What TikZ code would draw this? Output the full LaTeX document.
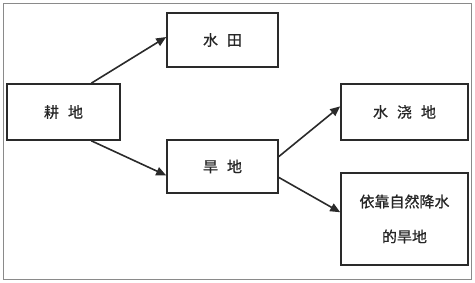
\documentclass[tikz,border=0pt]{standalone}
\usepackage{fontspec}
\setmainfont{Noto Sans CJK SC}
\newfontfamily\landfont{Noto Sans CJK SC}[FakeBold=0.8]
\usepackage{tikz}
\usetikzlibrary{arrows.meta}
\definecolor{boxline}{HTML}{2A2A2A}
\definecolor{frameline}{HTML}{8A8A8A}
\newcommand{\cgap}{\hspace{9pt}}

\begin{document}
\begin{tikzpicture}[
  x=1pt, y=1pt,
  landbox/.style={draw=boxline, line width=1.6pt, align=center, inner sep=0pt,
    font=\landfont\fontsize{15pt}{35pt}\selectfont, text=black!85},
  arrow/.style={-{Triangle[length=10pt, width=8.5pt]}, line width=1.6pt, draw=boxline}
]
  \useasboundingbox (0,0) rectangle (475,283);
  \draw[frameline, line width=1pt] (3,3) rectangle (471,279);

  \node[landbox, minimum width=113pt, minimum height=56pt] (gengdi) at (63.5,171) {耕\cgap 地};
  \node[landbox, minimum width=111pt, minimum height=54pt] (shuitian) at (222.5,243) {水\cgap 田};
  \node[landbox, minimum width=111pt, minimum height=53pt] (handi) at (222.5,116.5) {旱\cgap 地};
  \node[landbox, minimum width=127pt, minimum height=56pt] (shuijiao) at (404.5,171) {水\cgap 浇\cgap 地};
  \node[landbox, minimum width=127pt, minimum height=92pt] (yikao) at (404.5,64) {依靠自然降水\\的旱地};

  \draw[arrow] (gengdi.46) -- (shuitian.177);
  \draw[arrow] (gengdi.-46) -- (handi.189);
  \draw[arrow] (handi.10) -- (shuijiao.175);
  \draw[arrow] (handi.-11) -- (yikao.174);
\end{tikzpicture}
\end{document}
